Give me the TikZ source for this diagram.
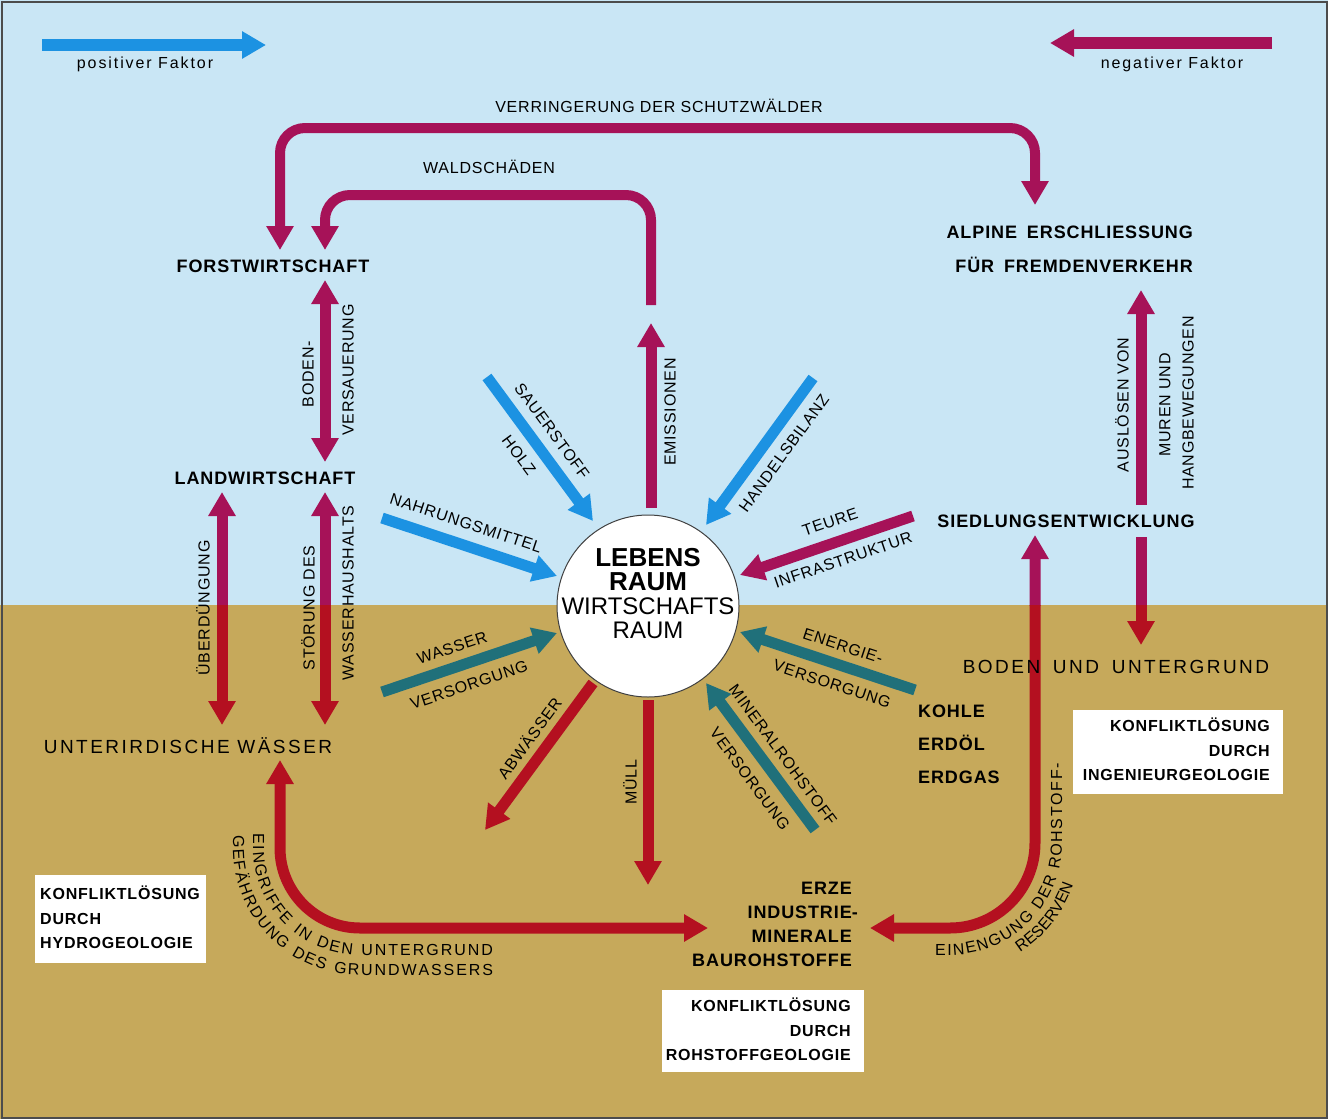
\documentclass[tikz,border=0pt]{standalone}
\usepackage{fontspec}
\setmainfont{Liberation Sans}
\newfontfamily\labf[LetterSpace=5]{Liberation Sans}
\newfontfamily\widef[LetterSpace=13]{Liberation Sans}
\newfontfamily\legf[LetterSpace=12]{Liberation Sans}
\usetikzlibrary{arrows.meta,decorations.text}
\definecolor{sky}{RGB}{201,230,245}
\definecolor{ground}{RGB}{198,169,91}
\definecolor{posblue}{RGB}{28,146,226}
\definecolor{negmag}{RGB}{166,18,88}
\definecolor{negred}{RGB}{180,16,32}
\definecolor{posteal}{RGB}{32,112,122}
\newcommand\curvf{\labf\fontsize{16}{16}\selectfont}
\newcommand\twotone[2]{%
  \begin{scope}\clip (0,0) rectangle (1328,605); \draw[#1,negmag] #2; \end{scope}%
  \begin{scope}\clip (0,605) rectangle (1328,1119); \draw[#1,negred] #2; \end{scope}}
\begin{document}
\begin{tikzpicture}[x=1pt,y=-1pt,
  >={Triangle[width=26pt,length=24pt]},
  flow/.style={line width=11pt,->},
  flowb/.style={line width=11pt,<->},
  ring/.style={line width=10pt,rounded corners=25pt},
  lbl/.style={font=\labf\fontsize{16}{18}\selectfont, inner sep=0pt},
  keyn/.style={font=\labf\bfseries\fontsize{18}{20}\selectfont, inner sep=0pt},
  bign/.style={font=\widef\fontsize{19}{21}\selectfont, inner sep=0pt},
  legtext/.style={font=\legf\fontsize{16}{18}\selectfont, inner sep=0pt},
  boxtext/.style={font=\labf\bfseries\fontsize{16}{24.5}\selectfont, inner sep=0pt},
  wbox/.style={fill=white, inner sep=0pt},
  curved/.style={decorate, decoration={text along path, text align={fit to path}, text={|\curvf|#1}}}
]
\useasboundingbox (0,0) rectangle (1328,1119);
% background
\fill[sky] (0,0) rectangle (1328,605);
\fill[ground] (0,605) rectangle (1328,1119);
\draw[line width=2pt, black!70] (1.5,1.5) rectangle (1326.5,1117.5);

% legend
\coordinate (pa) at (42,45); \coordinate (pb) at (266,45);
\draw[line width=12pt,->,posblue] (pa) -- (pb);
\node[legtext] (ptext) at (145,64) {positiver Faktor};
\coordinate (na) at (1272,43); \coordinate (nb) at (1050,43);
\draw[line width=12pt,->,negmag] (na) -- (nb);
\node[legtext] (ntext) at (1172,64) {negativer Faktor};

% boxes
\node[wbox, minimum width=171pt, minimum height=88pt] (hbox) at (120.5,919) {};
\node[boxtext, align=left, anchor=west] (htext) at (40,917.5) {KONFLIKTLÖSUNG\\DURCH\\HYDROGEOLOGIE};
\node[wbox, minimum width=210pt, minimum height=84pt] (ibox) at (1178,752) {};
\node[boxtext, align=right, anchor=east] (itext) at (1270,749.5) {KONFLIKTLÖSUNG\\DURCH\\INGENIEURGEOLOGIE};
\node[wbox, minimum width=202pt, minimum height=82pt] (rbox) at (763,1031) {};
\node[boxtext, align=right, anchor=east] (rtext) at (851,1029.5) {KONFLIKTLÖSUNG\\DURCH\\ROHSTOFFGEOLOGIE};

% loops
\coordinate (o1) at (280,250); \coordinate (o2) at (280,128);
\coordinate (o3) at (1035,128); \coordinate (o4) at (1035,205);
\draw[ring,<->,negmag] (o1) -- (o2) -- (o3) -- (o4);
\node[lbl] (verr) at (659,106) {VERRINGERUNG DER SCHUTZWÄLDER};
\coordinate (i1) at (651,305); \coordinate (i2) at (651,195);
\coordinate (i3) at (325,195); \coordinate (i4) at (325,250);
\draw[ring,->,negmag] (i1) -- (i2) -- (i3) -- (i4);
\node[lbl] (wald) at (489,167) {WALDSCHÄDEN};

% vertical links on the left
\coordinate (f1) at (325,280); \coordinate (f2) at (325,462);
\draw[flowb,negmag] (f1) -- (f2);
\node[lbl, rotate=90] (bod1) at (308,374) {BODEN-};
\node[lbl, rotate=90] (bod2) at (348,370) {VERSAUERUNG};
\coordinate (s1) at (325,492); \coordinate (s2) at (325,725);
\twotone{flowb}{(s1) -- (s2)}
\node[lbl, rotate=90] (st1) at (308,608) {STÖRUNG DES};
\node[lbl, rotate=90] (st2) at (348,593) {WASSERHAUSHALTS};
\coordinate (u1) at (222,492); \coordinate (u2) at (222,725);
\twotone{flowb}{(u1) -- (u2)}
\node[lbl, rotate=90] (ueb) at (203,608) {ÜBERDÜNGUNG};

% right side
\coordinate (r1) at (1141,505); \coordinate (r2) at (1141,290);
\draw[flow,negmag] (r1) -- (r2);
\node[lbl, rotate=90] (aus) at (1122,405) {AUSLÖSEN VON};
\node[lbl, rotate=90] (mur) at (1165,405) {MUREN UND};
\node[lbl, rotate=90] (hang) at (1188,403) {HANGBEWEGUNGEN};
\coordinate (r3) at (1141,537); \coordinate (r4) at (1141,645);
\twotone{flow}{(r3) -- (r4)}
\coordinate (g1) at (870,928); \coordinate (g2) at (1035,535);
\twotone{flowb,rounded corners=85pt}{(g1) -| (g2)}
\path[curved={EINENGUNG DER ROHSTOFF-}] (935,955) [rounded corners=112pt] -| (1062,763);
\path[decorate, decoration={text along path, text align=center, text={|\curvf|RESERVEN}}] (950,843) ++(61:130) arc[start angle=61, end angle=15, radius=130];

% bottom left
\coordinate (h1) at (280,760); \coordinate (h2) at (708,928);
\draw[flowb,negred,rounded corners=80pt] (h1) |- (h2);
\path[curved={EINGRIFFE IN DEN UNTERGRUND}] (253,833) [rounded corners=107pt] |- (493,955);
\path[curved={GEFÄHRDUNG DES GRUNDWASSERS}] (233,835) [rounded corners=127pt] |- (493,975);

% main nodes (on top of the connectors)
\node[keyn] (forst) at (273,266) {FORSTWIRTSCHAFT};
\node[keyn] (land) at (265,478) {LANDWIRTSCHAFT};
\node[bign] (unter) at (188,746) {UNTERIRDISCHE WÄSSER};
\node[keyn, align=right, anchor=east, font=\labf\bfseries\fontsize{18}{34}\selectfont] (alpine) at (1193,249) {ALPINE\hspace{4pt} ERSCHLIESSUNG\\FÜR\hspace{4pt} FREMDENVERKEHR};
\node[keyn] (siedl) at (1066,521) {SIEDLUNGSENTWICKLUNG};
\node[bign] (boden) at (1116,667) {BODEN\hspace{5pt} UND\hspace{5pt} UNTERGRUND};
\node[keyn, align=left, anchor=west, font=\labf\bfseries\fontsize{18}{33}\selectfont] (kohle) at (918,744) {KOHLE\\ERDÖL\\ERDGAS};
\node[keyn, align=right, anchor=east, font=\labf\bfseries\fontsize{18}{24}\selectfont] (erze) at (852,924) {ERZE\\INDUSTRIE\rlap{-}\\MINERALE\\BAUROHSTOFFE};

% centre
\node[circle, draw=black!75, line width=1pt, fill=white, minimum size=182pt, inner sep=0pt] (lr) at (648,606) {};
\node[align=center, inner sep=0pt, font=\fontsize{24}{24}\selectfont] (lrtext) at (648,594) {{\fontsize{26}{24}\selectfont\bfseries LEBENS}\\{\fontsize{26}{24}\selectfont\bfseries RAUM}\\WIRTSCHAFTS\\RAUM};

% radial arrows
\coordinate (e1) at (651,508); \coordinate (e2) at (651,323);
\draw[flow,negmag] (e1) -- (e2);
\node[lbl, rotate=90] (emi) at (670,412) {EMISSIONEN};

\coordinate (sa1) at (487,377); \coordinate (sa2) at (593,521);
\draw[flow,posblue] (sa1) -- (sa2);
\node[lbl, rotate=-53.6] (sau) at (552,431) {SAUERSTOFF};
\node[lbl, rotate=-53.6] (holz) at (519,455) {HOLZ};

\coordinate (na1) at (382,518); \coordinate (na2) at (557,576);
\draw[flow,posblue] (na1) -- (na2);
\node[lbl, rotate=-18.3] (nahr) at (466,523) {NAHRUNGSMITTEL};

\coordinate (ha1) at (813,378); \coordinate (ha2) at (706,525);
\draw[flow,posblue] (ha1) -- (ha2);
\node[lbl, rotate=54] (hand) at (784,453) {HANDELSBILANZ};

\coordinate (te1) at (913,516); \coordinate (te2) at (740,575);
\draw[flow,negmag] (te1) -- (te2);
\node[lbl, rotate=18.8] (teu) at (830,522) {TEURE};
\node[lbl, rotate=18.8] (infra) at (843,560) {INFRASTRUKTUR};

\coordinate (wa1) at (382,692); \coordinate (wa2) at (557,633);
\draw[flow,posteal] (wa1) -- (wa2);
\node[lbl, rotate=18.6] (was) at (452,648) {WASSER};
\node[lbl, rotate=18.6] (wver) at (469,685) {VERSORGUNG};

\coordinate (en1) at (915,690); \coordinate (en2) at (740,632);
\draw[flow,posteal] (en1) -- (en2);
\node[lbl, rotate=-18.3] (ene) at (843,646) {ENERGIE-};
\node[lbl, rotate=-18.3] (ever) at (832,684) {VERSORGUNG};

\coordinate (ab1) at (593,683); \coordinate (ab2) at (485,830);
\draw[flow,negred] (ab1) -- (ab2);
\node[lbl, rotate=53.7] (abw) at (529,738) {ABWÄSSER};

\coordinate (mu1) at (648,700); \coordinate (mu2) at (648,885);
\draw[flow,negred] (mu1) -- (mu2);
\node[lbl, rotate=90] (muell) at (630,782) {MÜLL};

\coordinate (mi1) at (815,830); \coordinate (mi2) at (706,683);
\draw[flow,posteal] (mi1) -- (mi2);
\node[lbl, rotate=-53.6] (min) at (783,755) {MINERALROHSTOFF};
\node[lbl, rotate=-53.6] (mver) at (750,779) {VERSORGUNG};
\end{tikzpicture}
\end{document}
